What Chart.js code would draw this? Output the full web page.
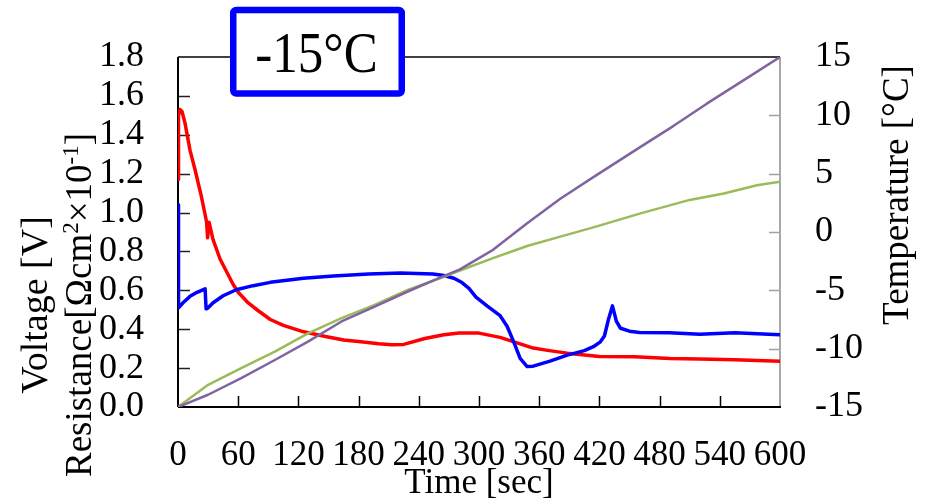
<!DOCTYPE html>
<html>
<head>
<meta charset="utf-8">
<script src="https://cdn.jsdelivr.net/npm/chart.js@4.4.1/dist/chart.umd.min.js"></script>
<style>
html,body{margin:0;padding:0;background:#ffffff;}
#wrap{width:934px;height:504px;position:relative;}
</style>
</head>
<body>
<div id="wrap"><canvas id="c" width="934" height="504"></canvas></div>
<script>
// ---------------- data ----------------
const timeTicks = [0, 60, 120, 180, 240, 300, 360, 420, 480, 540, 600];
const timeTickLabels = ['0', '60', '120', '180', '240', '300', '360', '420', '480', '540', '600'];
const leftTicks = [0, 0.2, 0.4, 0.6, 0.8, 1.0, 1.2, 1.4, 1.6, 1.8];
const leftTickLabels = ['0.0', '0.2', '0.4', '0.6', '0.8', '1.0', '1.2', '1.4', '1.6', '1.8'];
const tempTicks = [-15, -10, -5, 0, 5, 10, 15];
const tempTickLabels = ['-15', '-10', '-5', '0', '5', '10', '15'];

// Resistance (red, left axis)
const resistanceTime = [0, 0.5, 2, 4, 7, 12, 17, 23, 27, 28.5, 29.5, 31, 35, 42, 46, 50, 55, 60, 70, 80, 92, 105, 123, 147, 165, 180, 200, 213, 225, 246, 265, 280, 300, 321, 338, 354, 370, 388, 420, 455, 490, 520, 555, 600];
const resistanceValues = [1.17, 1.50, 1.53, 1.52, 1.46, 1.32, 1.22, 1.09, 0.99, 0.95, 0.87, 0.95, 0.86, 0.76, 0.72, 0.68, 0.63, 0.59, 0.535, 0.495, 0.45, 0.42, 0.39, 0.363, 0.345, 0.337, 0.325, 0.32, 0.322, 0.352, 0.372, 0.38, 0.38, 0.358, 0.33, 0.303, 0.29, 0.277, 0.26, 0.258, 0.25, 0.247, 0.243, 0.235];

// Voltage (blue, left axis)
const voltageTime = [0, 0.5, 5, 12, 19, 27, 28, 30, 35, 45, 58, 75, 92, 125, 155, 190, 222, 254, 265, 275, 283, 290, 297, 308, 321, 328, 335, 341, 348, 354, 370, 388, 405, 414, 421, 425, 429, 433, 437, 441, 450, 460, 490, 520, 555, 600];
const voltageValues = [1.04, 0.51, 0.536, 0.569, 0.59, 0.608, 0.505, 0.51, 0.536, 0.572, 0.603, 0.624, 0.641, 0.662, 0.674, 0.684, 0.689, 0.684, 0.676, 0.662, 0.64, 0.61, 0.565, 0.52, 0.47, 0.415, 0.33, 0.25, 0.208, 0.21, 0.235, 0.267, 0.29, 0.31, 0.335, 0.365, 0.45, 0.52, 0.44, 0.405, 0.39, 0.383, 0.382, 0.374, 0.382, 0.372];

// Temperature A (green, right axis)
const tempATime = [0, 30, 63, 97, 130, 163, 196, 229, 263, 281, 314, 348, 381, 414, 461, 510, 544, 577, 600];
const tempAValues = [-15, -13.1, -11.66, -10.24, -8.66, -7.38, -6.24, -4.96, -3.9, -3.3, -2.24, -1.2, -0.4, 0.4, 1.6, 2.75, 3.3, 4.0, 4.3];

// Temperature B (purple, right axis)
const tempBTime = [0, 30, 63, 97, 130, 163, 196, 229, 263, 281, 314, 348, 381, 414, 461, 494, 527, 560, 600];
const tempBValues = [-15, -13.95, -12.52, -10.95, -9.38, -7.67, -6.39, -5.1, -3.85, -3.2, -1.53, 0.75, 2.85, 4.7, 7.3, 9.1, 11.0, 12.8, 15];

const FONT = '"Liberation Serif", "Times New Roman", serif';

function pts(xs, ys) { return xs.map((x, i) => ({ x: x, y: ys[i] })); }

function setTicks(values) {
  return function (scale) { scale.ticks = values.map(v => ({ value: v })); };
}

// ---------------- custom drawing ----------------
function hline(ctx, x1, x2, y) { ctx.beginPath(); ctx.moveTo(x1, y); ctx.lineTo(x2, y); ctx.stroke(); }
function vline(ctx, x, y1, y2) { ctx.beginPath(); ctx.moveTo(x, y1); ctx.lineTo(x, y2); ctx.stroke(); }

function drawRotated(ctx, segs, cx, cy, size) {
  const supSize = Math.round(size * 0.62);
  let total = 0;
  const widths = segs.map(s => {
    ctx.font = (s.sup ? supSize : size) + 'px ' + FONT;
    const w = ctx.measureText(s.t).width;
    total += w;
    return w;
  });
  ctx.save();
  ctx.translate(cx, cy);
  ctx.rotate(-Math.PI / 2);
  ctx.textAlign = 'left';
  ctx.textBaseline = 'alphabetic';
  let x = -total / 2;
  segs.forEach((s, i) => {
    ctx.font = (s.sup ? supSize : size) + 'px ' + FONT;
    ctx.fillText(s.t, x, s.sup ? -size * 0.36 : 0);
    x += widths[i];
  });
  ctx.restore();
}

const framePlugin = {
  id: 'frame',
  beforeDatasetsDraw(chart) {
    const { ctx, chartArea: a, scales } = chart;
    ctx.save();
    ctx.lineCap = 'butt';
    // inward tick marks
    ctx.lineWidth = 1.5;
    ctx.strokeStyle = '#222';
    leftTicks.forEach(v => {
      if (v <= 0 || v >= 1.8) return;
      const y = Math.round(scales.y.getPixelForValue(v)) + 0.5;
      hline(ctx, a.left, a.left + 12, y);
    });
    ctx.strokeStyle = '#000';
    timeTicks.forEach(v => {
      if (v <= 0 || v >= 600) return;
      const x = Math.round(scales.x.getPixelForValue(v)) + 0.5;
      vline(ctx, x, a.bottom, a.bottom - 11);
    });
    ctx.strokeStyle = '#a0a0a0';
    tempTicks.forEach(v => {
      if (v <= -15 || v >= 15) return;
      const y = Math.round(scales.y2.getPixelForValue(v)) + 0.5;
      hline(ctx, a.right - 11, a.right, y);
    });
    // frame
    ctx.lineWidth = 2;
    ctx.strokeStyle = '#a8a8a8';
    vline(ctx, a.right, a.top, a.bottom);
    ctx.strokeStyle = '#000';
    ctx.lineWidth = 1.5;
    hline(ctx, a.left, a.right, a.top);
    ctx.lineWidth = 2;
    hline(ctx, a.left, a.right + 1, a.bottom);
    vline(ctx, a.left, a.top, a.bottom);
    ctx.restore();
  },
  afterDraw(chart) {
    const { ctx } = chart;
    ctx.save();
    ctx.fillStyle = '#000';
    // x axis title
    ctx.font = '35px ' + FONT;
    ctx.textAlign = 'center';
    ctx.textBaseline = 'alphabetic';
    ctx.fillText('Time [sec]', 479, 493);
    // left titles
    drawRotated(ctx, [{ t: 'Voltage [V]' }], 47, 305, 38);
    drawRotated(ctx, [
      { t: 'Resistance[Ωcm' }, { t: '2', sup: true }, { t: '×10' }, { t: '-1', sup: true }, { t: ']' }
    ], 91, 305, 37);
    // right title
    drawRotated(ctx, [{ t: 'Temperature [°C]' }], 908, 195, 37);

    // title box
    ctx.fillStyle = '#ffffff';
    ctx.strokeStyle = '#0000ff';
    ctx.lineWidth = 6.5;
    ctx.lineJoin = 'round';
    ctx.beginPath();
    if (ctx.roundRect) ctx.roundRect(233.25, 10, 168.5, 83.5, 3); else ctx.rect(233.25, 10, 168.5, 83.5);
    ctx.fill();
    ctx.stroke();
    ctx.fillStyle = '#000';
    ctx.save();
    ctx.translate(316.5, 72);
    ctx.scale(1, 1.1);
    ctx.font = '51px ' + FONT;
    ctx.textAlign = 'center';
    ctx.textBaseline = 'alphabetic';
    ctx.fillText('-15°C', 0, 0);
    ctx.restore();
    ctx.restore();
  }
};

const chart = new Chart(document.getElementById('c'), {
  type: 'line',
  data: {
    datasets: [
      {
        label: 'Temperature B', data: pts(tempBTime, tempBValues), yAxisID: 'y2',
        borderColor: '#8064a2', borderWidth: 2.5, order: 1
      },
      {
        label: 'Temperature A', data: pts(tempATime, tempAValues), yAxisID: 'y2',
        borderColor: '#9bbb59', borderWidth: 2.5, order: 2
      },
      {
        label: 'Voltage', data: pts(voltageTime, voltageValues), yAxisID: 'y',
        borderColor: '#0000ff', borderWidth: 3.5, order: 3
      },
      {
        label: 'Resistance', data: pts(resistanceTime, resistanceValues), yAxisID: 'y',
        borderColor: '#ff0000', borderWidth: 3.5, order: 4
      }
    ]
  },
  options: {
    responsive: false,
    animation: false,
    events: [],
    layout: { padding: { top: 57, left: 0, right: 0, bottom: 0 } },
    elements: {
      point: { radius: 0 },
      line: { tension: 0, fill: false, borderJoinStyle: 'round', borderCapStyle: 'round' }
    },
    plugins: { legend: { display: false }, tooltip: { enabled: false }, title: { display: false } },
    scales: {
      x: {
        type: 'linear', position: 'bottom', min: 0, max: 600,
        grid: { display: false }, border: { display: false },
        afterBuildTicks: setTicks(timeTicks),
        afterFit(scale) { scale.height = 97; },
        ticks: {
          autoSkip: false, maxRotation: 0, minRotation: 0, padding: 20, color: '#000',
          font: { family: FONT, size: 35 },
          callback: (v, i) => timeTickLabels[i]
        }
      },
      y: {
        type: 'linear', position: 'left', min: 0, max: 1.8,
        grid: { display: false }, border: { display: false },
        afterBuildTicks: setTicks(leftTicks),
        afterFit(scale) { scale.width = 178; },
        ticks: {
          autoSkip: false, padding: 26, color: '#000',
          font: { family: FONT, size: 36 },
          callback: (v, i) => leftTickLabels[i]
        }
      },
      y2: {
        type: 'linear', position: 'right', min: -15, max: 15,
        grid: { display: false }, border: { display: false },
        afterBuildTicks: setTicks(tempTicks),
        afterFit(scale) { scale.width = 154; },
        ticks: {
          autoSkip: false, padding: 27, color: '#000',
          font: { family: FONT, size: 36 },
          callback: (v, i) => tempTickLabels[i]
        }
      }
    }
  },
  plugins: [framePlugin]
});
</script>
</body>
</html>
